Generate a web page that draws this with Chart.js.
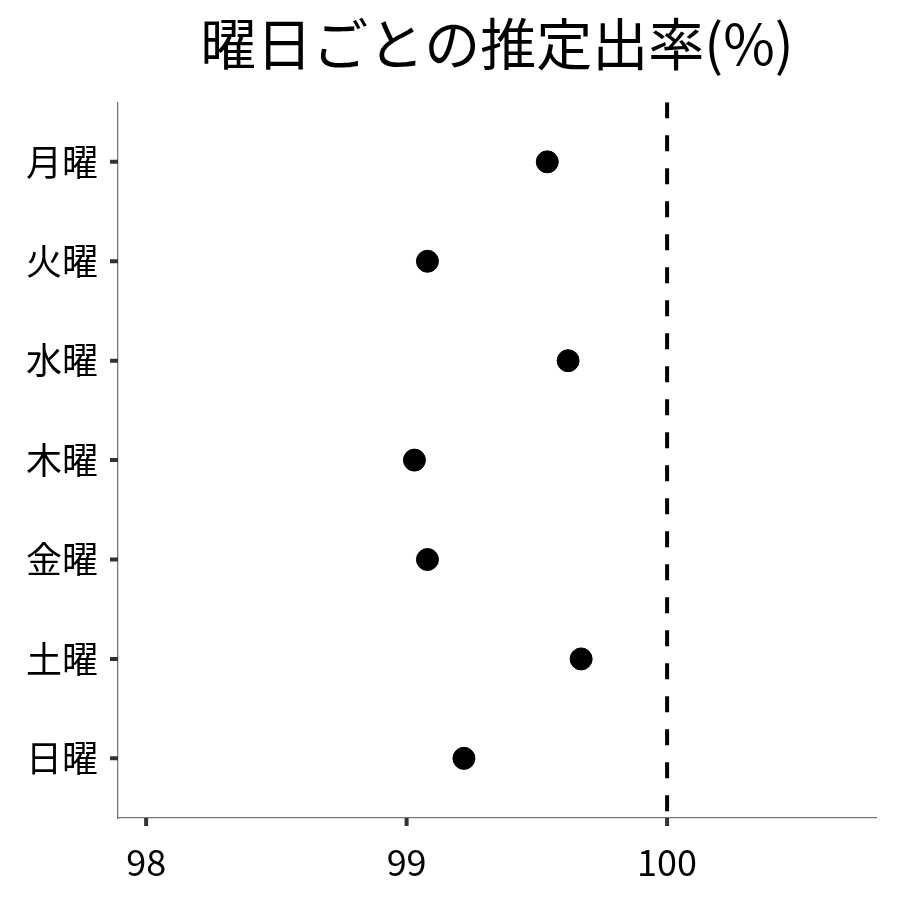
<!DOCTYPE html>
<html>
<head>
<meta charset="utf-8">
<script src="https://cdn.jsdelivr.net/npm/chart.js@4/dist/chart.umd.min.js"></script>
<style>
  html, body { margin: 0; padding: 0; background: #fff; }
  #wrap { width: 900px; height: 900px; }
</style>
</head>
<body>
<div id="wrap"><canvas id="dotChart" width="900" height="900"></canvas></div>
<script>
// data
const days = ['月曜', '火曜', '水曜', '木曜', '金曜', '土曜', '日曜'];
const rates = [99.54, 99.08, 99.62, 99.03, 99.08, 99.67, 99.22];
const xTicks = [98, 99, 100];
const refLine = 100;

const FONT = '"Noto Sans CJK JP", "Noto Sans", sans-serif';

const points = days.map((d, i) => ({ x: rates[i], y: i + 1 }));

// ggplot-style short thick tick marks
const tickMarks = {
    id: 'tickMarks',
    afterDraw(chart) {
        const ctx = chart.ctx;
        const area = chart.chartArea;
        const xs = chart.scales.x, ys = chart.scales.y;
        ctx.save();
        ctx.strokeStyle = '#333';
        ctx.lineWidth = 4;
        ctx.beginPath();
        xs.ticks.forEach(t => {
            const px = xs.getPixelForValue(t.value);
            ctx.moveTo(px, area.bottom);
            ctx.lineTo(px, area.bottom + 8);
        });
        ys.ticks.forEach(t => {
            const py = ys.getPixelForValue(t.value);
            ctx.moveTo(area.left - 8, py);
            ctx.lineTo(area.left, py);
        });
        ctx.stroke();
        ctx.restore();
    }
};

new Chart(document.getElementById('dotChart'), {
    type: 'scatter',
    data: {
        datasets: [
            {
                label: 'rate',
                data: points,
                backgroundColor: '#000',
                borderColor: '#000',
                pointRadius: 11,
                pointHoverRadius: 11
            },
            {
                label: 'ref',
                type: 'line',
                data: [{ x: refLine, y: 0.4 }, { x: refLine, y: days.length + 0.6 }],
                borderColor: '#000',
                borderWidth: 4,
                borderDash: [16, 17],
                pointRadius: 0,
                fill: false
            }
        ]
    },
    options: {
        responsive: false,
        animation: false,
        layout: { padding: { left: 0, right: 24, top: 0, bottom: 0 } },
        plugins: {
            legend: { display: false },
            tooltip: { enabled: false },
            title: {
                display: true,
                fullSize: false,
                text: '曜日ごとの推定出率(%)',
                color: '#000',
                font: { family: FONT, size: 56, weight: 'normal' },
                padding: { top: 10, bottom: 25 }
            }
        },
        scales: {
            x: {
                type: 'linear',
                min: 97.892,
                max: 100.802,
                afterBuildTicks: s => { s.ticks = xTicks.map(v => ({ value: v })); },
                afterFit: s => { s.height = 82; },
                border: { display: true, color: '#777', width: 1.3 },
                grid: { display: false },
                ticks: {
                    color: '#000',
                    padding: 15,
                    font: { family: FONT, size: 36 },
                    callback: v => String(v)
                }
            },
            y: {
                type: 'linear',
                reverse: true,
                min: 0.4,
                max: days.length + 0.6,
                afterBuildTicks: s => { s.ticks = days.map((d, i) => ({ value: i + 1 })); },
                afterFit: s => { s.width = 118; },
                border: { display: true, color: '#777', width: 1.3 },
                grid: { display: false },
                ticks: {
                    color: '#000',
                    padding: 12,
                    font: { family: FONT, size: 36 },
                    callback: v => days[v - 1]
                }
            }
        }
    },
    plugins: [tickMarks]
});
</script>
</body>
</html>
